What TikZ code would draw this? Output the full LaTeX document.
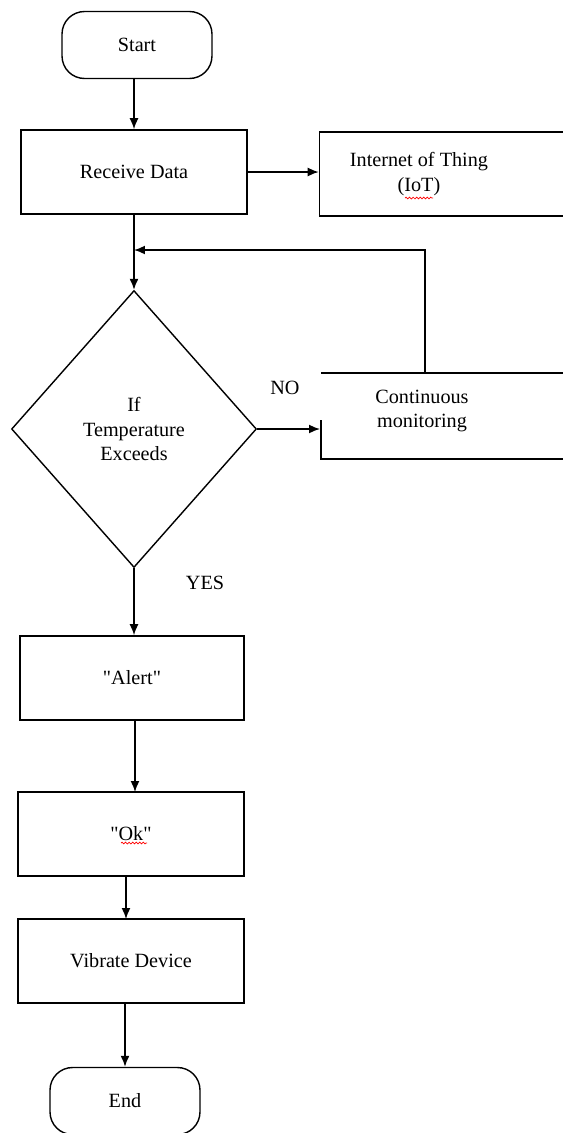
\documentclass[tikz,border=0pt]{standalone}
\usepackage{fontspec}
\setmainfont{Liberation Serif}
\usetikzlibrary{shapes.geometric,arrows.meta}
\usetikzlibrary{decorations.pathmorphing}

\tikzset{
  flow/.style={line width=0.9pt,-{Latex[length=2.2mm,width=1.8mm]}},
  procbox/.style={draw,line width=0.9pt,minimum width=4.5cm,minimum height=1.68cm},
  termbox/.style={draw,line width=0.8pt,rounded corners=0.45cm,minimum width=3cm,minimum height=1.34cm},
  spellmark/.style={red,line width=0.4pt,decorate,decoration={snake,amplitude=0.5pt,segment length=2pt}}
}

\begin{document}
\begin{tikzpicture}[x=0.02cm,y=-0.02cm,font=\fontsize{11.5}{14}\selectfont]
\useasboundingbox (0,0) rectangle (562,1133);
% main column
\node[termbox] (start) at (137,45) {Start};
\node[procbox,minimum width=4.52cm] (recv) at (134,172) {Receive Data};
\node[draw,diamond,line width=0.8pt,minimum width=4.9cm,minimum height=5.54cm,inner sep=0pt,align=center] (test) at (134,429) {If\\Temperature\\Exceeds};
\node[procbox,minimum width=4.48cm] (alert) at (132,678) {\textquotedbl Alert\textquotedbl};
\node[procbox,minimum width=4.52cm] (ok) at (131,834) {\textquotedbl Ok\textquotedbl};
\node[procbox,minimum width=4.52cm] (vib) at (131,961) {Vibrate Device};
\node[termbox] (end) at (125,1101) {End};
% right side
\node[procbox,minimum width=5.3cm] (iot) at (452,174) {};
\node[align=center] (iottext) at (419,174) {Internet of Thing\\(IoT)};
\node[align=center] (mon) at (422,411) {Continuous\\monitoring};
\coordinate (monin) at (320,429);
\coordinate (montop) at (425,373);
\draw[line width=0.9pt] (321,373) -- (580,373);
\draw[line width=0.9pt] (321,420) -- (321,459) -- (580,459);
% labels
\node (no) at (285,388) {NO};
\node (yes) at (205,583) {YES};
% connectors
\draw[flow] (134,79) -- (recv.north);
\draw[flow] (recv.east) -- (recv.east -| iot.west);
\draw[flow] (recv.south) -- (test.north);
\draw[flow] (test.east) -- (test.east -| monin);
\draw[flow] (montop) |- (134,250);
\draw[flow] (test.south) -- (test.south |- alert.north);
\draw[flow] (135,720) -- (135,792);
\draw[flow] (126,876) -- (126,919);
\draw[flow] (125,1004) -- (end.north);
% spell check marks
\draw[spellmark] (405,198) -- (433,198);
\draw[spellmark] (121,843) -- (147,843);
\end{tikzpicture}
\end{document}
